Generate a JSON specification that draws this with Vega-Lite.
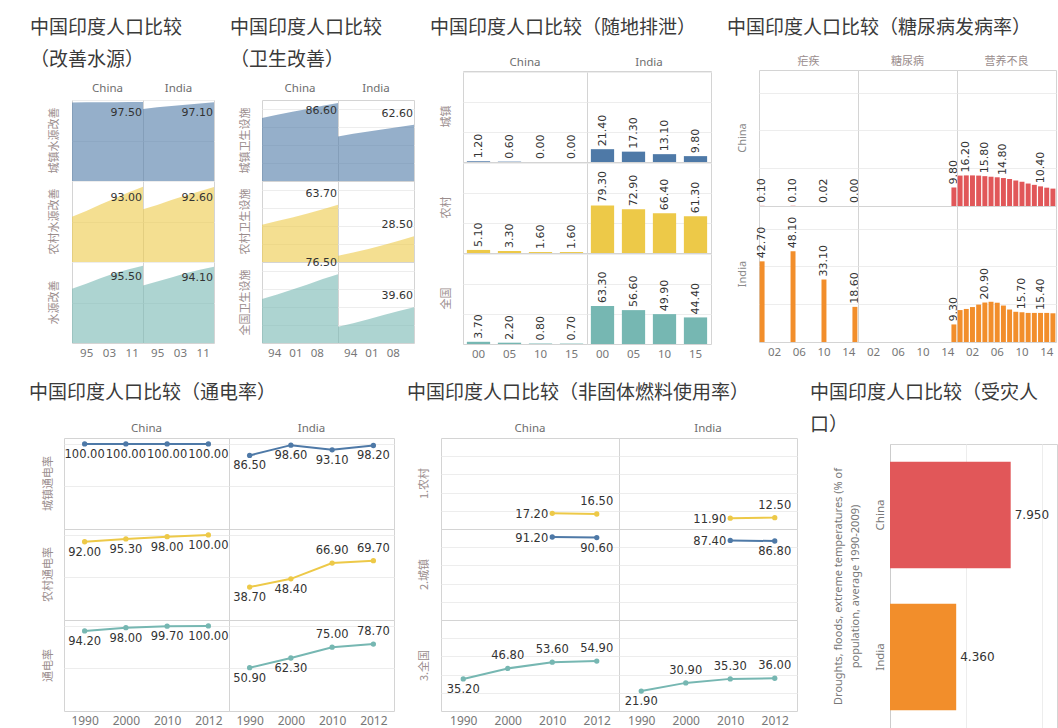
{
  "$schema": "https://vega.github.io/schema/vega-lite/v6.json",
  "padding": {"left": 14, "top": 18, "right": 0, "bottom": 0},
  "background": "white",
  "config": {
    "view": {"stroke": "#d4d4d4"},
    "axis": {"domain": false, "ticks": false, "labelFont": "Noto Sans", "labelFontSize": 11.5, "labelColor": "#777777", "gridColor": "#ededed", "labelPadding": 4},
    "header": {"labelFont": "Noto Sans", "labelFontSize": 11.5, "labelColor": "#6e6e6e"},
    "title": {"font": "Noto Sans CJK SC", "fontSize": 19, "fontWeight": "normal", "color": "#3a3a3a", "lineHeight": 32},
    "text": {"font": "DejaVu Sans", "fontSize": 11, "fill": "#333333"},
    "concat": {"spacing": 15}
  },
  "spacing": 23,
  "resolve": {"scale": {"color": "independent"}},
  "vconcat": [
    {
      "spacing": 15,
      "resolve": {"scale": {"color": "independent"}},
      "hconcat": [
        {"data": {"values": []}, "mark": "point", "width": 1, "height": 1, "view": {"stroke": null, "fill": "#ffffff"}},
        {
          "spacing": 12,
          "vconcat": [
            {"data": {"values": []}, "mark": "point", "width": 142, "height": 1, "view": {"stroke": null},
             "title": {"text": ["中国印度人口比较", "（改善水源）"], "orient": "bottom", "anchor": "start", "dx": -42, "offset": 0, "limit": 400}},
            {
              "data": {"values": [
                {"country": "China", "indicator": "城镇水源改善", "year": 1990, "value": 97.0},
                {"country": "China", "indicator": "城镇水源改善", "year": 1995, "value": 97.1},
                {"country": "China", "indicator": "城镇水源改善", "year": 2000, "value": 97.2},
                {"country": "China", "indicator": "城镇水源改善", "year": 2005, "value": 97.3},
                {"country": "China", "indicator": "城镇水源改善", "year": 2010, "value": 97.4},
                {"country": "China", "indicator": "城镇水源改善", "year": 2015, "value": 97.5},
                {"country": "India", "indicator": "城镇水源改善", "year": 1990, "value": 89.0},
                {"country": "India", "indicator": "城镇水源改善", "year": 1995, "value": 91.0},
                {"country": "India", "indicator": "城镇水源改善", "year": 2000, "value": 92.6},
                {"country": "India", "indicator": "城镇水源改善", "year": 2005, "value": 94.1},
                {"country": "India", "indicator": "城镇水源改善", "year": 2010, "value": 95.6},
                {"country": "India", "indicator": "城镇水源改善", "year": 2015, "value": 97.1},
                {"country": "China", "indicator": "农村水源改善", "year": 1990, "value": 56.0},
                {"country": "China", "indicator": "农村水源改善", "year": 1995, "value": 63.0},
                {"country": "China", "indicator": "农村水源改善", "year": 2000, "value": 71.0},
                {"country": "China", "indicator": "农村水源改善", "year": 2005, "value": 78.5},
                {"country": "China", "indicator": "农村水源改善", "year": 2010, "value": 86.0},
                {"country": "China", "indicator": "农村水源改善", "year": 2015, "value": 93.0},
                {"country": "India", "indicator": "农村水源改善", "year": 1990, "value": 65.0},
                {"country": "India", "indicator": "农村水源改善", "year": 1995, "value": 70.5},
                {"country": "India", "indicator": "农村水源改善", "year": 2000, "value": 76.5},
                {"country": "India", "indicator": "农村水源改善", "year": 2005, "value": 82.0},
                {"country": "India", "indicator": "农村水源改善", "year": 2010, "value": 87.5},
                {"country": "India", "indicator": "农村水源改善", "year": 2015, "value": 92.6},
                {"country": "China", "indicator": "水源改善", "year": 1990, "value": 67.0},
                {"country": "China", "indicator": "水源改善", "year": 1995, "value": 73.0},
                {"country": "China", "indicator": "水源改善", "year": 2000, "value": 80.0},
                {"country": "China", "indicator": "水源改善", "year": 2005, "value": 86.0},
                {"country": "China", "indicator": "水源改善", "year": 2010, "value": 91.0},
                {"country": "China", "indicator": "水源改善", "year": 2015, "value": 95.5},
                {"country": "India", "indicator": "水源改善", "year": 1990, "value": 71.0},
                {"country": "India", "indicator": "水源改善", "year": 1995, "value": 76.0},
                {"country": "India", "indicator": "水源改善", "year": 2000, "value": 81.0},
                {"country": "India", "indicator": "水源改善", "year": 2005, "value": 86.0},
                {"country": "India", "indicator": "水源改善", "year": 2010, "value": 90.5},
                {"country": "India", "indicator": "水源改善", "year": 2015, "value": 94.1}
              ]},
              "bounds": "flush",
              "facet": {
                "row": {"field": "indicator", "type": "nominal", "sort": ["城镇水源改善", "农村水源改善", "水源改善"], "title": null,
                        "header": {"labelAngle": -90, "labelPadding": 6, "labelFont": "Noto Sans CJK SC", "labelFontSize": 11, "labelColor": "#9a8d8d"}},
                "column": {"field": "country", "type": "nominal", "title": null, "header": {"labelPadding": 6}}
              },
              "spacing": {"row": 0, "column": 0},
              "spec": {
                "width": 71, "height": 81,
                "encoding": {
                  "x": {"field": "year", "type": "quantitative", "scale": {"domain": [1990, 2015], "nice": false, "zero": false},
                        "axis": {"values": [1995, 2003, 2011], "labelExpr": "slice(toString(datum.value), 2)", "grid": false, "title": null}},
                  "y": {"field": "value", "type": "quantitative", "stack": null, "scale": {"domain": [0, 100], "nice": false},
                        "axis": {"values": [50, 100], "labels": false, "title": null, "grid": true}}
                },
                "layer": [
                  {"mark": {"type": "area", "opacity": 0.6},
                   "encoding": {"color": {"field": "indicator", "type": "nominal", "scale": {"domain": ["城镇水源改善", "农村水源改善", "水源改善"], "range": ["#4e79a7", "#edc948", "#76b7b2"]}, "legend": null}}},
                  {"transform": [{"filter": "datum.year == 2015"}],
                   "mark": {"type": "text", "align": "right", "baseline": "middle", "dx": -1, "dy": 11},
                   "encoding": {"text": {"field": "value", "type": "quantitative", "format": ".2f"}}}
                ]
              }
            }
          ]
        },
        {
          "spacing": 12,
          "vconcat": [
            {"data": {"values": []}, "mark": "point", "width": 152, "height": 1, "view": {"stroke": null},
             "title": {"text": ["中国印度人口比较", "（卫生改善）"], "orient": "bottom", "anchor": "start", "dx": -32, "offset": 0, "limit": 400}},
            {
              "data": {"values": [
                {"country": "China", "indicator": "城镇卫生设施", "year": 1990, "value": 70.0},
                {"country": "China", "indicator": "城镇卫生设施", "year": 1995, "value": 73.5},
                {"country": "China", "indicator": "城镇卫生设施", "year": 2000, "value": 77.0},
                {"country": "China", "indicator": "城镇卫生设施", "year": 2005, "value": 80.0},
                {"country": "China", "indicator": "城镇卫生设施", "year": 2010, "value": 83.5},
                {"country": "China", "indicator": "城镇卫生设施", "year": 2015, "value": 86.6},
                {"country": "India", "indicator": "城镇卫生设施", "year": 1990, "value": 49.5},
                {"country": "India", "indicator": "城镇卫生设施", "year": 1995, "value": 52.5},
                {"country": "India", "indicator": "城镇卫生设施", "year": 2000, "value": 55.0},
                {"country": "India", "indicator": "城镇卫生设施", "year": 2005, "value": 57.5},
                {"country": "India", "indicator": "城镇卫生设施", "year": 2010, "value": 60.0},
                {"country": "India", "indicator": "城镇卫生设施", "year": 2015, "value": 62.6},
                {"country": "China", "indicator": "农村卫生设施", "year": 1990, "value": 41.5},
                {"country": "China", "indicator": "农村卫生设施", "year": 1995, "value": 45.5},
                {"country": "China", "indicator": "农村卫生设施", "year": 2000, "value": 49.5},
                {"country": "China", "indicator": "农村卫生设施", "year": 2005, "value": 54.0},
                {"country": "China", "indicator": "农村卫生设施", "year": 2010, "value": 58.5},
                {"country": "China", "indicator": "农村卫生设施", "year": 2015, "value": 63.7},
                {"country": "India", "indicator": "农村卫生设施", "year": 1990, "value": 7.0},
                {"country": "India", "indicator": "农村卫生设施", "year": 1995, "value": 10.5},
                {"country": "India", "indicator": "农村卫生设施", "year": 2000, "value": 14.5},
                {"country": "India", "indicator": "农村卫生设施", "year": 2005, "value": 19.0},
                {"country": "India", "indicator": "农村卫生设施", "year": 2010, "value": 23.5},
                {"country": "India", "indicator": "农村卫生设施", "year": 2015, "value": 28.5},
                {"country": "China", "indicator": "全国卫生设施", "year": 1990, "value": 49.0},
                {"country": "China", "indicator": "全国卫生设施", "year": 1995, "value": 54.0},
                {"country": "China", "indicator": "全国卫生设施", "year": 2000, "value": 59.5},
                {"country": "China", "indicator": "全国卫生设施", "year": 2005, "value": 65.0},
                {"country": "China", "indicator": "全国卫生设施", "year": 2010, "value": 71.0},
                {"country": "China", "indicator": "全国卫生设施", "year": 2015, "value": 76.5},
                {"country": "India", "indicator": "全国卫生设施", "year": 1990, "value": 18.0},
                {"country": "India", "indicator": "全国卫生设施", "year": 1995, "value": 22.0},
                {"country": "India", "indicator": "全国卫生设施", "year": 2000, "value": 26.5},
                {"country": "India", "indicator": "全国卫生设施", "year": 2005, "value": 31.0},
                {"country": "India", "indicator": "全国卫生设施", "year": 2010, "value": 35.5},
                {"country": "India", "indicator": "全国卫生设施", "year": 2015, "value": 39.6}
              ]},
              "bounds": "flush",
              "facet": {
                "row": {"field": "indicator", "type": "nominal", "sort": ["城镇卫生设施", "农村卫生设施", "全国卫生设施"], "title": null,
                        "header": {"labelAngle": -90, "labelPadding": 5, "labelFont": "Noto Sans CJK SC", "labelFontSize": 11, "labelColor": "#9a8d8d"}},
                "column": {"field": "country", "type": "nominal", "title": null, "header": {"labelPadding": 6}}
              },
              "spacing": {"row": 0, "column": 0},
              "spec": {
                "width": 76, "height": 81,
                "encoding": {
                  "x": {"field": "year", "type": "quantitative", "scale": {"domain": [1990, 2015], "nice": false, "zero": false},
                        "axis": {"values": [1994, 2001, 2008], "labelExpr": "slice(toString(datum.value), 2)", "grid": false, "title": null}},
                  "y": {"field": "value", "type": "quantitative", "stack": null, "scale": {"domain": [0, 90], "nice": false},
                        "axis": {"values": [20, 40, 60, 80], "labels": false, "title": null, "grid": true}}
                },
                "layer": [
                  {"mark": {"type": "area", "opacity": 0.6},
                   "encoding": {"color": {"field": "indicator", "type": "nominal", "scale": {"domain": ["城镇卫生设施", "农村卫生设施", "全国卫生设施"], "range": ["#4e79a7", "#edc948", "#76b7b2"]}, "legend": null}}},
                  {"transform": [{"filter": "datum.year == 2015 && datum.value > 80"}],
                   "mark": {"type": "text", "align": "right", "baseline": "middle", "dx": -1, "dy": 8},
                   "encoding": {"text": {"field": "value", "type": "quantitative", "format": ".2f"}}},
                  {"transform": [{"filter": "datum.year == 2015 && datum.value <= 80"}],
                   "mark": {"type": "text", "align": "right", "baseline": "middle", "dx": -1, "dy": -11},
                   "encoding": {"text": {"field": "value", "type": "quantitative", "format": ".2f"}}}
                ]
              }
            }
          ]
        },
        {
          "spacing": 18,
          "vconcat": [
            {"data": {"values": []}, "mark": "point", "width": 248, "height": 1, "view": {"stroke": null},
             "title": {"text": "中国印度人口比较（随地排泄）", "orient": "bottom", "anchor": "start", "dx": -33, "offset": 0, "limit": 400}},
            {
              "data": {"values": [
                {"country": "China", "indicator": "城镇", "year": 2000, "value": 1.2},
                {"country": "China", "indicator": "城镇", "year": 2005, "value": 0.6},
                {"country": "China", "indicator": "城镇", "year": 2010, "value": 0.0},
                {"country": "China", "indicator": "城镇", "year": 2015, "value": 0.0},
                {"country": "India", "indicator": "城镇", "year": 2000, "value": 21.4},
                {"country": "India", "indicator": "城镇", "year": 2005, "value": 17.3},
                {"country": "India", "indicator": "城镇", "year": 2010, "value": 13.1},
                {"country": "India", "indicator": "城镇", "year": 2015, "value": 9.8},
                {"country": "China", "indicator": "农村", "year": 2000, "value": 5.1},
                {"country": "China", "indicator": "农村", "year": 2005, "value": 3.3},
                {"country": "China", "indicator": "农村", "year": 2010, "value": 1.6},
                {"country": "China", "indicator": "农村", "year": 2015, "value": 1.6},
                {"country": "India", "indicator": "农村", "year": 2000, "value": 79.3},
                {"country": "India", "indicator": "农村", "year": 2005, "value": 72.9},
                {"country": "India", "indicator": "农村", "year": 2010, "value": 66.4},
                {"country": "India", "indicator": "农村", "year": 2015, "value": 61.3},
                {"country": "China", "indicator": "全国", "year": 2000, "value": 3.7},
                {"country": "China", "indicator": "全国", "year": 2005, "value": 2.2},
                {"country": "China", "indicator": "全国", "year": 2010, "value": 0.8},
                {"country": "China", "indicator": "全国", "year": 2015, "value": 0.7},
                {"country": "India", "indicator": "全国", "year": 2000, "value": 63.3},
                {"country": "India", "indicator": "全国", "year": 2005, "value": 56.6},
                {"country": "India", "indicator": "全国", "year": 2010, "value": 49.9},
                {"country": "India", "indicator": "全国", "year": 2015, "value": 44.4}
              ]},
              "bounds": "flush",
              "facet": {
                "row": {"field": "indicator", "type": "nominal", "sort": ["城镇", "农村", "全国"], "title": null,
                        "header": {"labelAngle": -90, "labelPadding": 5, "labelFont": "Noto Sans CJK SC", "labelFontSize": 11, "labelColor": "#9a8d8d"}},
                "column": {"field": "country", "type": "nominal", "title": null, "header": {"labelPadding": 3}}
              },
              "spacing": {"row": 0, "column": 0},
              "spec": {
                "width": 124, "height": 91,
                "encoding": {
                  "x": {"field": "year", "type": "ordinal", "scale": {"paddingInner": 0.25, "paddingOuter": 0.125},
                        "axis": {"labelExpr": "slice(toString(datum.value), 2)", "labelAngle": 0, "title": null}},
                  "y": {"field": "value", "type": "quantitative", "stack": null, "scale": {"domain": [0, 152], "nice": false},
                        "axis": {"values": [50, 100, 150], "labels": false, "title": null, "grid": true}}
                },
                "layer": [
                  {"mark": "bar",
                   "encoding": {"color": {"field": "indicator", "type": "nominal", "scale": {"domain": ["城镇", "农村", "全国"], "range": ["#4e79a7", "#edc948", "#76b7b2"]}, "legend": null}}},
                  {"mark": {"type": "text", "angle": 270, "align": "left", "baseline": "middle", "dx": 3},
                   "encoding": {"text": {"field": "value", "type": "quantitative", "format": ".2f"}}}
                ]
              }
            }
          ]
        },
        {
          "spacing": 18,
          "vconcat": [
            {"data": {"values": []}, "mark": "point", "width": 297, "height": 1, "view": {"stroke": null},
             "title": {"text": "中国印度人口比较（糖尿病发病率）", "orient": "bottom", "anchor": "start", "dx": -32, "offset": 0, "limit": 400}},
            {
              "data": {"values": [
                {"country": "China", "disease": "疟疾", "year": 2000, "value": 0.10},
                {"country": "China", "disease": "疟疾", "year": 2005, "value": 0.10},
                {"country": "China", "disease": "疟疾", "year": 2010, "value": 0.02},
                {"country": "China", "disease": "疟疾", "year": 2015, "value": 0.00},
                {"country": "India", "disease": "疟疾", "year": 2000, "value": 42.7},
                {"country": "India", "disease": "疟疾", "year": 2005, "value": 48.1},
                {"country": "India", "disease": "疟疾", "year": 2010, "value": 33.1},
                {"country": "India", "disease": "疟疾", "year": 2015, "value": 18.6},
                {"country": "China", "disease": "糖尿病", "year": 2015, "value": 9.8},
                {"country": "India", "disease": "糖尿病", "year": 2015, "value": 9.3},
                {"country": "China", "disease": "营养不良", "year": 2000, "value": 16.1},
                {"country": "China", "disease": "营养不良", "year": 2001, "value": 16.2},
                {"country": "China", "disease": "营养不良", "year": 2002, "value": 16.2},
                {"country": "China", "disease": "营养不良", "year": 2003, "value": 16.1},
                {"country": "China", "disease": "营养不良", "year": 2004, "value": 15.8},
                {"country": "China", "disease": "营养不良", "year": 2005, "value": 15.5},
                {"country": "China", "disease": "营养不良", "year": 2006, "value": 15.2},
                {"country": "China", "disease": "营养不良", "year": 2007, "value": 14.8},
                {"country": "China", "disease": "营养不良", "year": 2008, "value": 14.3},
                {"country": "China", "disease": "营养不良", "year": 2009, "value": 13.5},
                {"country": "China", "disease": "营养不良", "year": 2010, "value": 12.8},
                {"country": "China", "disease": "营养不良", "year": 2011, "value": 11.9},
                {"country": "China", "disease": "营养不良", "year": 2012, "value": 11.2},
                {"country": "China", "disease": "营养不良", "year": 2013, "value": 10.4},
                {"country": "China", "disease": "营养不良", "year": 2014, "value": 9.7},
                {"country": "China", "disease": "营养不良", "year": 2015, "value": 9.2},
                {"country": "India", "disease": "营养不良", "year": 2000, "value": 16.9},
                {"country": "India", "disease": "营养不良", "year": 2001, "value": 17.5},
                {"country": "India", "disease": "营养不良", "year": 2002, "value": 18.5},
                {"country": "India", "disease": "营养不良", "year": 2003, "value": 19.8},
                {"country": "India", "disease": "营养不良", "year": 2004, "value": 20.9},
                {"country": "India", "disease": "营养不良", "year": 2005, "value": 21.3},
                {"country": "India", "disease": "营养不良", "year": 2006, "value": 20.8},
                {"country": "India", "disease": "营养不良", "year": 2007, "value": 19.3},
                {"country": "India", "disease": "营养不良", "year": 2008, "value": 17.2},
                {"country": "India", "disease": "营养不良", "year": 2009, "value": 16.0},
                {"country": "India", "disease": "营养不良", "year": 2010, "value": 15.7},
                {"country": "India", "disease": "营养不良", "year": 2011, "value": 15.4},
                {"country": "India", "disease": "营养不良", "year": 2012, "value": 15.4},
                {"country": "India", "disease": "营养不良", "year": 2013, "value": 15.4},
                {"country": "India", "disease": "营养不良", "year": 2014, "value": 15.4},
                {"country": "India", "disease": "营养不良", "year": 2015, "value": 15.2}
              ]},
              "bounds": "flush",
              "facet": {
                "row": {"field": "country", "type": "nominal", "title": null,
                        "header": {"labelAngle": -90, "labelPadding": 5, "labelFontSize": 11, "labelColor": "#8a8a8a"}},
                "column": {"field": "disease", "type": "nominal", "sort": ["疟疾", "糖尿病", "营养不良"], "title": null,
                           "header": {"labelPadding": 3, "labelFont": "Noto Sans CJK SC", "labelFontSize": 11, "labelColor": "#9a8d8d"}}
              },
              "spacing": {"row": 0, "column": 0},
              "spec": {
                "width": 99, "height": 136,
                "encoding": {
                  "x": {"field": "year", "type": "ordinal",
                        "scale": {"domain": [2000, 2001, 2002, 2003, 2004, 2005, 2006, 2007, 2008, 2009, 2010, 2011, 2012, 2013, 2014, 2015], "paddingInner": 0.2, "paddingOuter": 0.1},
                        "axis": {"values": [2002, 2006, 2010, 2014], "labelExpr": "slice(toString(datum.value), 2)", "labelAngle": 0, "title": null}},
                  "y": {"field": "value", "type": "quantitative", "stack": null, "scale": {"domain": [0, 72], "nice": false},
                        "axis": {"values": [20, 40, 60], "labels": false, "title": null, "grid": true}}
                },
                "layer": [
                  {"mark": "bar",
                   "encoding": {"color": {"field": "country", "type": "nominal", "scale": {"domain": ["China", "India"], "range": ["#e15759", "#f28e2b"]}, "legend": null}}},
                  {"transform": [{"filter": "datum.disease != '营养不良' || (datum.country == 'China' && indexof([2001, 2004, 2007, 2013], datum.year) >= 0) || (datum.country == 'India' && indexof([2004, 2010, 2013], datum.year) >= 0)"}],
                   "mark": {"type": "text", "angle": 270, "align": "left", "baseline": "middle", "dx": 3},
                   "encoding": {"text": {"field": "value", "type": "quantitative", "format": ".2f"}}}
                ]
              }
            }
          ]
        }
      ]
    },
    {
      "spacing": 12,
      "resolve": {"scale": {"color": "independent"}},
      "hconcat": [
        {"data": {"values": []}, "mark": "point", "width": 3, "height": 1, "view": {"stroke": null, "fill": "#ffffff"}},
        {
          "spacing": 19,
          "vconcat": [
            {"data": {"values": []}, "mark": "point", "width": 330, "height": 1, "view": {"stroke": null},
             "title": {"text": "中国印度人口比较（通电率）", "orient": "bottom", "anchor": "start", "dx": -35, "offset": 0, "limit": 400}},
            {
              "data": {"values": [
                {"country": "China", "indicator": "城镇通电率", "year": 1990, "value": 100.0},
                {"country": "China", "indicator": "城镇通电率", "year": 2000, "value": 100.0},
                {"country": "China", "indicator": "城镇通电率", "year": 2010, "value": 100.0},
                {"country": "China", "indicator": "城镇通电率", "year": 2012, "value": 100.0},
                {"country": "India", "indicator": "城镇通电率", "year": 1990, "value": 86.5},
                {"country": "India", "indicator": "城镇通电率", "year": 2000, "value": 98.6},
                {"country": "India", "indicator": "城镇通电率", "year": 2010, "value": 93.1},
                {"country": "India", "indicator": "城镇通电率", "year": 2012, "value": 98.2},
                {"country": "China", "indicator": "农村通电率", "year": 1990, "value": 92.0},
                {"country": "China", "indicator": "农村通电率", "year": 2000, "value": 95.3},
                {"country": "China", "indicator": "农村通电率", "year": 2010, "value": 98.0},
                {"country": "China", "indicator": "农村通电率", "year": 2012, "value": 100.0},
                {"country": "India", "indicator": "农村通电率", "year": 1990, "value": 38.7},
                {"country": "India", "indicator": "农村通电率", "year": 2000, "value": 48.4},
                {"country": "India", "indicator": "农村通电率", "year": 2010, "value": 66.9},
                {"country": "India", "indicator": "农村通电率", "year": 2012, "value": 69.7},
                {"country": "China", "indicator": "通电率", "year": 1990, "value": 94.2},
                {"country": "China", "indicator": "通电率", "year": 2000, "value": 98.0},
                {"country": "China", "indicator": "通电率", "year": 2010, "value": 99.7},
                {"country": "China", "indicator": "通电率", "year": 2012, "value": 100.0},
                {"country": "India", "indicator": "通电率", "year": 1990, "value": 50.9},
                {"country": "India", "indicator": "通电率", "year": 2000, "value": 62.3},
                {"country": "India", "indicator": "通电率", "year": 2010, "value": 75.0},
                {"country": "India", "indicator": "通电率", "year": 2012, "value": 78.7}
              ]},
              "bounds": "flush",
              "facet": {
                "row": {"field": "indicator", "type": "nominal", "sort": ["城镇通电率", "农村通电率", "通电率"], "title": null,
                        "header": {"labelAngle": -90, "labelPadding": 4, "labelFont": "Noto Sans CJK SC", "labelFontSize": 11, "labelColor": "#9a8d8d"}},
                "column": {"field": "country", "type": "nominal", "title": null, "header": {"labelPadding": 4}}
              },
              "spacing": {"row": 0, "column": 0},
              "spec": {
                "width": 165, "height": 91,
                "encoding": {
                  "x": {"field": "year", "type": "ordinal", "scale": {"domain": [1990, 2000, 2010, 2012]},
                        "axis": {"labelAngle": 0, "title": null, "labelFontSize": 12}},
                  "y": {"field": "value", "type": "quantitative", "scale": {"domain": [0, 107], "nice": false},
                        "axis": {"values": [50, 100], "labels": false, "title": null, "grid": true}},
                  "color": {"field": "indicator", "type": "nominal", "scale": {"domain": ["城镇通电率", "农村通电率", "通电率"], "range": ["#4e79a7", "#edc948", "#76b7b2"]}, "legend": null}
                },
                "layer": [
                  {"mark": {"type": "line", "strokeWidth": 2}},
                  {"mark": {"type": "circle", "size": 28, "opacity": 1}},
                  {"transform": [{"filter": "!(datum.country == 'India' && datum.year >= 2010 && datum.indicator != '城镇通电率')"}],
                   "mark": {"type": "text", "align": "center", "baseline": "middle", "dy": 11, "fontSize": 11.5},
                   "encoding": {"text": {"field": "value", "type": "quantitative", "format": ".2f"}, "color": {"value": "#333333"}}},
                  {"transform": [{"filter": "datum.country == 'India' && datum.year >= 2010 && datum.indicator != '城镇通电率'"}],
                   "mark": {"type": "text", "align": "center", "baseline": "middle", "dy": -12, "fontSize": 11.5},
                   "encoding": {"text": {"field": "value", "type": "quantitative", "format": ".2f"}, "color": {"value": "#333333"}}}
                ]
              }
            }
          ]
        },
        {
          "spacing": 19,
          "vconcat": [
            {"data": {"values": []}, "mark": "point", "width": 356, "height": 1, "view": {"stroke": null},
             "title": {"text": "中国印度人口比较（非固体燃料使用率）", "orient": "bottom", "anchor": "start", "dx": -34, "offset": 0, "limit": 400}},
            {
              "data": {"values": [
                {"country": "China", "indicator": "1.农村", "year": 2010, "value": 17.2},
                {"country": "China", "indicator": "1.农村", "year": 2012, "value": 16.5},
                {"country": "India", "indicator": "1.农村", "year": 2010, "value": 11.9},
                {"country": "India", "indicator": "1.农村", "year": 2012, "value": 12.5},
                {"country": "China", "indicator": "2.城镇", "year": 2010, "value": 91.2},
                {"country": "China", "indicator": "2.城镇", "year": 2012, "value": 90.6},
                {"country": "India", "indicator": "2.城镇", "year": 2010, "value": 87.4},
                {"country": "India", "indicator": "2.城镇", "year": 2012, "value": 86.8},
                {"country": "China", "indicator": "3.全国", "year": 1990, "value": 35.2},
                {"country": "China", "indicator": "3.全国", "year": 2000, "value": 46.8},
                {"country": "China", "indicator": "3.全国", "year": 2010, "value": 53.6},
                {"country": "China", "indicator": "3.全国", "year": 2012, "value": 54.9},
                {"country": "India", "indicator": "3.全国", "year": 1990, "value": 21.9},
                {"country": "India", "indicator": "3.全国", "year": 2000, "value": 30.9},
                {"country": "India", "indicator": "3.全国", "year": 2010, "value": 35.3},
                {"country": "India", "indicator": "3.全国", "year": 2012, "value": 36.0}
              ]},
              "bounds": "flush",
              "facet": {
                "row": {"field": "indicator", "type": "nominal", "sort": ["1.农村", "2.城镇", "3.全国"], "title": null,
                        "header": {"labelAngle": -90, "labelPadding": 5, "labelFont": "Noto Sans CJK SC", "labelFontSize": 11, "labelColor": "#9a8d8d"}},
                "column": {"field": "country", "type": "nominal", "title": null, "header": {"labelPadding": 4}}
              },
              "spacing": {"row": 0, "column": 0},
              "spec": {
                "width": 178, "height": 91,
                "encoding": {
                  "x": {"field": "year", "type": "ordinal", "scale": {"domain": [1990, 2000, 2010, 2012]},
                        "axis": {"labelAngle": 0, "title": null, "labelFontSize": 12}},
                  "y": {"field": "value", "type": "quantitative", "scale": {"domain": [0, 100], "nice": false},
                        "axis": {"values": [20, 40, 60, 80], "labels": false, "title": null, "grid": true}},
                  "color": {"field": "indicator", "type": "nominal", "scale": {"domain": ["1.农村", "2.城镇", "3.全国"], "range": ["#edc948", "#4e79a7", "#76b7b2"]}, "legend": null}
                },
                "layer": [
                  {"mark": {"type": "line", "strokeWidth": 2}},
                  {"mark": {"type": "circle", "size": 28, "opacity": 1}},
                  {"transform": [{"filter": "datum.year == 2010 && datum.indicator != '3.全国'"}],
                   "mark": {"type": "text", "align": "right", "baseline": "middle", "dx": -4, "dy": 2, "fontSize": 11.5},
                   "encoding": {"text": {"field": "value", "type": "quantitative", "format": ".2f"}, "color": {"value": "#333333"}}},
                  {"transform": [{"filter": "(datum.indicator == '1.农村' && datum.year == 2012) || (datum.indicator == '3.全国' && datum.year != 1990)"}],
                   "mark": {"type": "text", "align": "center", "baseline": "middle", "dy": -12, "fontSize": 11.5},
                   "encoding": {"text": {"field": "value", "type": "quantitative", "format": ".2f"}, "color": {"value": "#333333"}}},
                  {"transform": [{"filter": "(datum.indicator == '2.城镇' && datum.year == 2012) || (datum.indicator == '3.全国' && datum.year == 1990)"}],
                   "mark": {"type": "text", "align": "center", "baseline": "middle", "dy": 11, "fontSize": 11.5},
                   "encoding": {"text": {"field": "value", "type": "quantitative", "format": ".2f"}, "color": {"value": "#333333"}}}
                ]
              }
            }
          ]
        },
        {
          "spacing": 8,
          "vconcat": [
            {"data": {"values": []}, "mark": "point", "width": 167, "height": 1, "view": {"stroke": null},
             "title": {"text": ["中国印度人口比较（受灾人", "口）"], "orient": "bottom", "anchor": "start", "dx": -80, "offset": 0, "limit": 400}},
            {
              "data": {"values": [
                {"country": "China", "value": 7.95},
                {"country": "India", "value": 4.36}
              ]},
              "width": 167, "height": 284,
              "encoding": {
                "y": {"field": "country", "type": "nominal", "scale": {"paddingInner": 0.25, "paddingOuter": 0.125},
                      "axis": {"title": ["Droughts, floods, extreme temperatures (% of", "population, average 1990-2009)"], "labelAngle": -90, "labelPadding": 5, "domain": true, "domainColor": "#cccccc",
                               "titleFont": "Noto Sans", "titleFontSize": 11, "titleFontWeight": "normal", "titleColor": "#777777", "titlePadding": 14, "titleLineHeight": 17}},
                "x": {"field": "value", "type": "quantitative", "scale": {"domain": [0, 11], "nice": false},
                      "axis": {"values": [5, 10], "labels": false, "title": null, "grid": true}}
              },
              "layer": [
                {"mark": "bar",
                 "encoding": {"color": {"field": "country", "type": "nominal", "scale": {"domain": ["China", "India"], "range": ["#e15759", "#f28e2b"]}, "legend": null}}},
                {"mark": {"type": "text", "align": "left", "baseline": "middle", "dx": 4, "fontSize": 12},
                 "encoding": {"text": {"field": "value", "type": "quantitative", "format": ".3f"}}}
              ]
            }
          ]
        }
      ]
    }
  ]
}
